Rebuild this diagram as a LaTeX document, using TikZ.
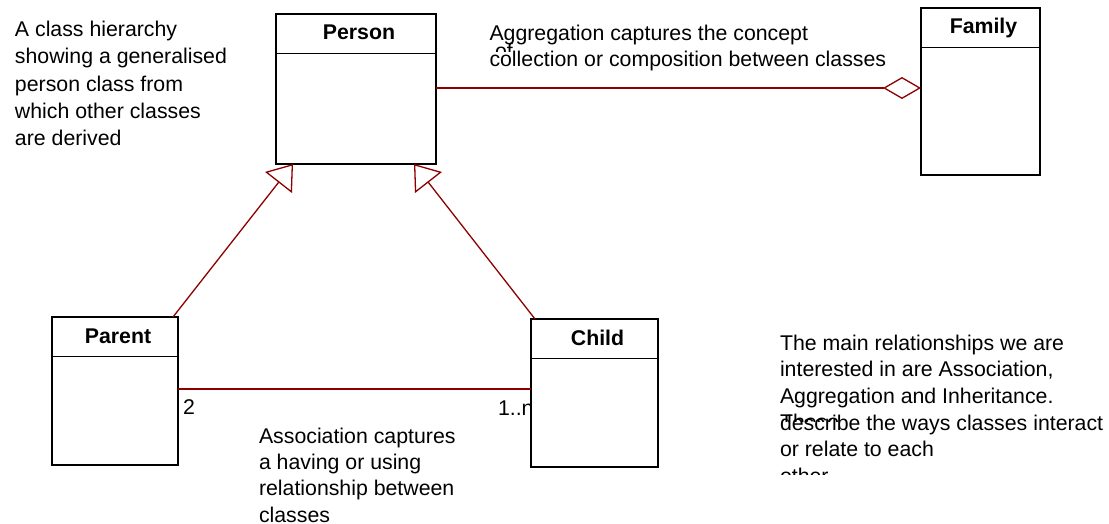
\documentclass[tikz,border=0pt]{standalone}
\usepackage{fontspec}
\setmainfont{Liberation Sans}
\usetikzlibrary{arrows.meta,calc}
\definecolor{linkred}{RGB}{140,0,0}
\begin{document}
\begin{tikzpicture}[x=1pt,y=-1pt,
  every node/.style={inner sep=0pt,outer sep=0pt},
  classbox/.style={draw=black,line width=1.4pt,fill=white},
  classname/.style={anchor=base,font=\fontsize{21.3}{26}\bfseries\selectfont},
  headline/.style={draw=black,line width=1.2pt},
  note/.style={anchor=north west,align=left,font=\fontsize{21.3}{26.7}\selectfont},
  mult/.style={anchor=base west,font=\fontsize{21.3}{26}\selectfont},
  inherit/.style={draw=linkred,line width=1.3pt,
    -{Triangle[length=23.5pt,width=34pt,fill=white,line width=1.3pt]}},
  assoc/.style={draw=linkred,line width=1.3pt},
  aggreg/.style={draw=linkred,line width=1.3pt,
    -{Diamond[length=38pt,width=22pt,fill=white,line width=1.3pt]}}]
\useasboundingbox (0,0) rectangle (1109,524);

% free-standing notes
\node[note,font=\fontsize{21.3}{27.1}\selectfont] (hiernote) at (15,21.4)
  {A class hierarchy\\showing a generalised\\person class from\\which other classes\\are derived};
\node[note,font=\fontsize{21.3}{26}\selectfont] (aggnote) at (489.5,24.75)
  {Aggregation captures the concept\\collection or composition between classes};
\begin{scope}
  \clip (484,40) rectangle (530,52);
  \node[mult] (aggof) at (495,59) {of};
\end{scope}
\node[note,font=\fontsize{21.3}{26.2}\selectfont] (assocnote) at (259,428)
  {Association captures\\a having or using\\relationship between\\classes};
\begin{scope}
  \clip (770,300) rectangle (1109,474);
  \node[note] (mainnote) at (780,334.75)
    {The main relationships we are\\interested in are Association,\\Aggregation and Inheritance.\\describe the ways classes interact\\or relate to each\\other};
\end{scope}
\begin{scope}
  \clip (775,405) rectangle (880,421);
  \node[mult] (mainthese) at (780,429) {These};
\end{scope}

% multiplicities
\node[mult] (multparent) at (183,414) {2};
\node[mult] (multchild) at (498,415) {1..n};

% classes
\node[classbox,minimum width=160pt,minimum height=150pt] (person) at (356,89) {};
\node[classbox,minimum width=119pt,minimum height=167pt] (family) at (980.5,91.5) {};
\node[classbox,minimum width=126pt,minimum height=148pt] (parent) at (115,391) {};
\node[classbox,minimum width=127pt,minimum height=148pt] (child) at (594.5,393) {};

\foreach \c/\t in {person/Person,family/Family,parent/Parent,child/Child}{
  \node[classname] (\c-name) at ($(\c.north)+(3,26)$) {\t};
  \draw[headline] ($(\c.north west)+(0,39.5)$) -- ($(\c.north east)+(0,39.5)$);
}

% relationships
\draw[inherit] ($(parent.north east)+(-5,0)$) -- ($(person.south west)+(17,0)$);
\draw[inherit] ($(child.north west)+(4,0)$) -- ($(person.south east)+(-22,0)$);
\draw[assoc] ($(parent.east)+(0,-2)$) -- ($(parent.east -| child.west)+(0,-2)$);
\draw[aggreg] ($(person.east)+(0,-1)$) -- ($(person.east -| family.west)+(0,-1)$);
\end{tikzpicture}
\end{document}
